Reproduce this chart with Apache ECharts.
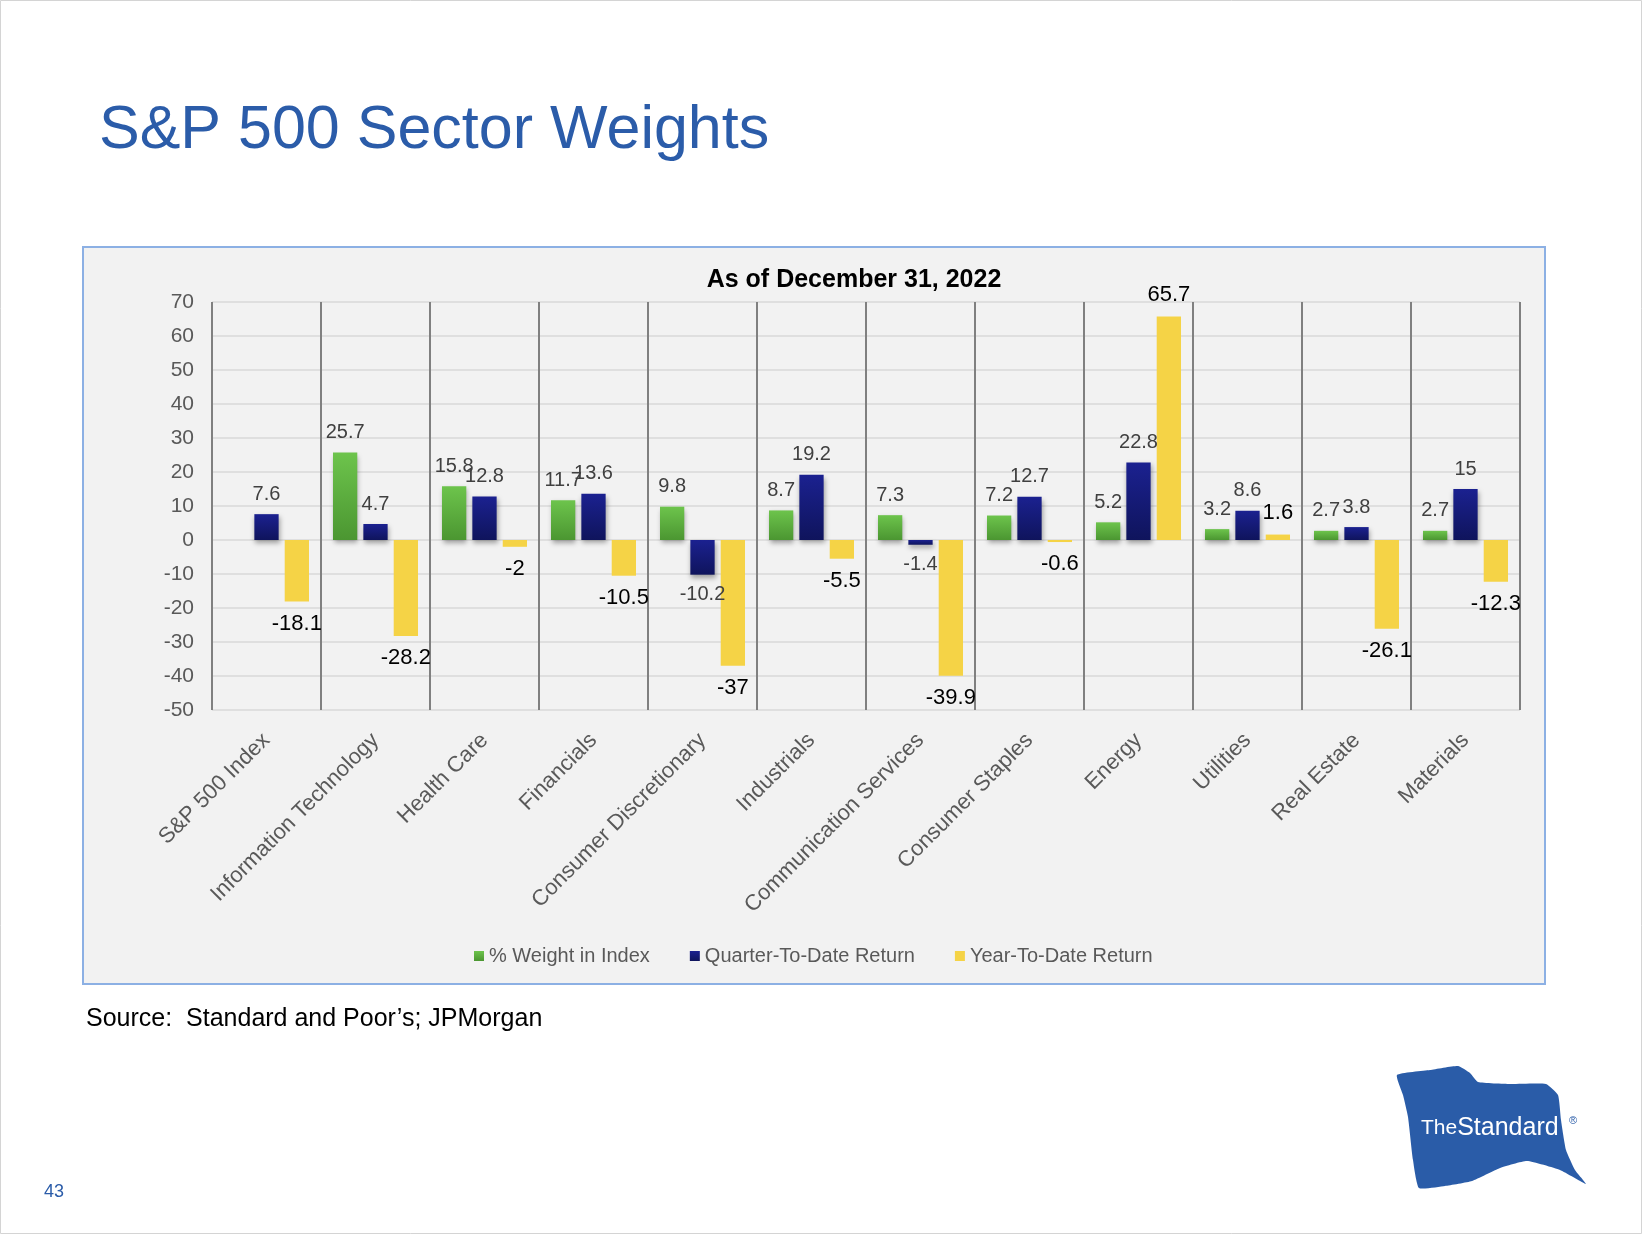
<!DOCTYPE html>
<html><head><meta charset="utf-8">
<script src="https://cdn.jsdelivr.net/npm/echarts@6/dist/echarts.min.js"></script>
<style>html,body{margin:0;padding:0;background:#fff}#c{width:1642px;height:1234px}</style>
</head><body><div id="c"></div>
<script>
const categories = ['S&P 500 Index','Information Technology','Health Care','Financials','Consumer Discretionary','Industrials','Communication Services','Consumer Staples','Energy','Utilities','Real Estate','Materials'];
const weightInIndex = [null, 25.7, 15.8, 11.7, 9.8, 8.7, 7.3, 7.2, 5.2, 3.2, 2.7, 2.7];
const qtdReturn = [7.6, 4.7, 12.8, 13.6, -10.2, 19.2, -1.4, 12.7, 22.8, 8.6, 3.8, 15];
const ytdReturn = [-18.1, -28.2, -2, -10.5, -37, -5.5, -39.9, -0.6, 65.7, 1.6, -26.1, -12.3];
const seriesNames = ['% Weight in Index', 'Quarter-To-Date Return', 'Year-To-Date Return'];

const FONT = '"Liberation Sans", Arial, Helvetica, sans-serif';
const chart = echarts.init(document.getElementById('c'), null, {renderer: 'canvas'});

function items(vals) {
  return vals.map(v => v == null ? '-' : {value: v, label: {position: v >= 0 ? 'top' : 'bottom'}});
}
const shadow = {shadowColor: 'rgba(0,0,0,0.35)', shadowBlur: 5, shadowOffsetX: 1, shadowOffsetY: 3};
const flagOutline = [[1397,1075],[1430,1070],[1458,1066],[1470,1073],[1478,1082],[1510,1084],[1546,1084],[1558,1095],[1561,1120],[1566,1150],[1575,1170],[1586,1184],[1560,1170],[1527,1161],[1500,1168],[1472,1181],[1445,1186],[1419,1188],[1413,1160],[1408,1117],[1403,1095]];

const option = {
  animation: false,
  backgroundColor: '#ffffff',
  textStyle: {fontFamily: FONT},
  graphic: [
    {type: 'rect', z: -20, shape: {x: 0.5, y: 0.5, width: 1641, height: 1233}, style: {fill: '#ffffff', stroke: '#d4d4d4', lineWidth: 1}},
    {type: 'rect', z: -10, shape: {x: 83, y: 247, width: 1462, height: 737}, style: {fill: '#f2f2f2', stroke: '#8cb0e4', lineWidth: 2}},
    {type: 'text', z: 5, style: {x: 99, y: 131, text: 'S&P 500 Sector Weights', font: '61px ' + FONT, fill: '#2b5ca9', verticalAlign: 'middle'}},
    {type: 'text', z: 5, style: {x: 854, y: 280, text: 'As of December 31, 2022', font: 'bold 25px ' + FONT, fill: '#000000', align: 'center', verticalAlign: 'middle'}},
    {type: 'text', z: 5, style: {x: 86, y: 1019, text: 'Source:  Standard and Poor\u2019s; JPMorgan', font: '25px ' + FONT, fill: '#000000', verticalAlign: 'middle'}},
    {type: 'text', z: 5, style: {x: 44, y: 1192, text: '43', font: '18px ' + FONT, fill: '#2b5ca9', verticalAlign: 'middle'}},
    {type: 'polygon', z: 5, shape: {points: flagOutline, smooth: 0.15}, style: {fill: '#2a5ca8'}},
    {type: 'text', z: 6, style: {x: 1421, y: 1128, text: '{a|The}{b|Standard}', verticalAlign: 'middle', rich: {a: {fontSize: 21, fontFamily: FONT, fill: '#ffffff'}, b: {fontSize: 25, fontFamily: FONT, fill: '#ffffff'}}}},
    {type: 'text', z: 6, style: {x: 1573, y: 1121, text: '\u00AE', font: '11px ' + FONT, fill: '#2a5ca8', align: 'center', verticalAlign: 'middle'}}
  ],
  legend: {
    data: seriesNames,
    left: 469,
    top: 941,
    icon: 'rect',
    itemWidth: 10,
    itemHeight: 10,
    itemGap: 40,
    textStyle: {fontSize: 20, color: '#595959', fontFamily: FONT},
    itemStyle: {shadowBlur: 0, shadowOffsetX: 0, shadowOffsetY: 0, shadowColor: 'transparent'}
  },
  grid: {left: 212, top: 302, width: 1308, height: 408, containLabel: false},
  xAxis: {
    type: 'category',
    data: categories,
    position: 'bottom',
    axisLine: {show: false, onZero: false},
    axisTick: {show: false},
    splitLine: {show: true, interval: 0, lineStyle: {color: '#808080', width: 2}},
    axisLabel: {interval: 0, rotate: 45, margin: 27, fontSize: 22, color: '#595959', fontFamily: FONT}
  },
  yAxis: {
    type: 'value',
    min: -50, max: 70, interval: 10,
    axisLine: {show: false},
    axisTick: {show: false},
    splitLine: {show: true, lineStyle: {color: '#d9d9d9', width: 1.5}},
    axisLabel: {fontSize: 21, color: '#595959', margin: 18, fontFamily: FONT}
  },
  series: [
    {
      name: seriesNames[0], type: 'bar', data: items(weightInIndex),
      barCategoryGap: '22%', barGap: '25%',
      itemStyle: Object.assign({color: new echarts.graphic.LinearGradient(0, 0, 0, 1, [{offset: 0, color: '#6dc44c'}, {offset: 1, color: '#4b9631'}])}, shadow),
      label: {show: true, distance: 10, fontSize: 20, color: '#404040', fontFamily: FONT}
    },
    {
      name: seriesNames[1], type: 'bar', data: items(qtdReturn),
      barCategoryGap: '22%', barGap: '25%',
      itemStyle: Object.assign({color: new echarts.graphic.LinearGradient(0, 0, 0, 1, [{offset: 0, color: '#1b2190'}, {offset: 1, color: '#0f145c'}])}, shadow),
      label: {show: true, distance: 10, fontSize: 20, color: '#404040', fontFamily: FONT}
    },
    {
      name: seriesNames[2], type: 'bar', data: items(ytdReturn),
      barCategoryGap: '22%', barGap: '25%',
      itemStyle: {color: '#f5d346'},
      label: {show: true, distance: 11, fontSize: 22, color: '#000000', fontFamily: FONT}
    }
  ]
};
chart.setOption(option);
</script>
</body></html>
